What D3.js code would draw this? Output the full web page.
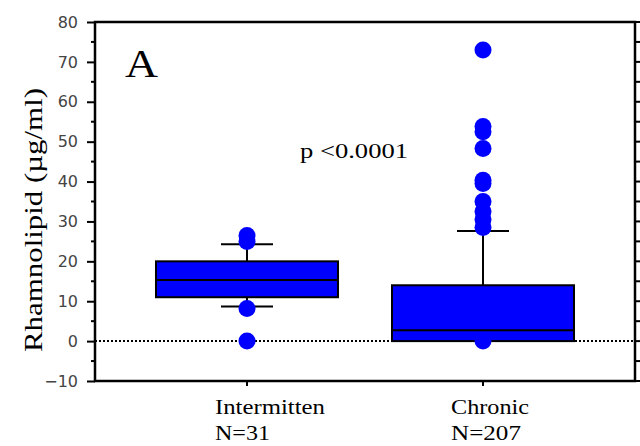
<!DOCTYPE html>
<html>
<head>
<meta charset="utf-8">
<script src="https://cdn.jsdelivr.net/npm/d3@7"></script>
<style>
  body { margin: 0; background: #fff; }
  svg { display: block; }
</style>
</head>
<body>
<svg id="chart" width="640" height="446"></svg>
<script>
// datos
const categories = ["Intermitten", "Chronic"];
const counts = ["N=31", "N=207"];
const q1 = [11, 0];
const median = [15.3, 2.7];
const q3 = [20, 14];
const whiskerLow = [8.7, 0];
const whiskerHigh = [24.3, 27.6];
const outliers = [
  [26.5, 25, 8.2, 0],
  [73, 53.8, 52.5, 48.3, 40.3, 39.5, 35, 32.5, 30.5, 28.5, 0]
];
const yTicks = [-10, 0, 10, 20, 30, 40, 50, 60, 70, 80];

const svg = d3.select("#chart");
const mLeft = 95, mRight = 635, mTop = 22, mBottom = 381;

const x = d3.scalePoint().domain(categories).range([mLeft, mRight]).padding(0.644);
const y = d3.scaleLinear().domain([-10, 80]).range([mBottom, mTop]);

const boxHalf = 91, capHalf = 26, r = 8.5;

// línea punteada en cero
svg.append("line")
  .attr("x1", mLeft).attr("x2", mRight)
  .attr("y1", y(0)).attr("y2", y(0))
  .attr("stroke", "#000").attr("stroke-width", 2)
  .attr("stroke-dasharray", "2,2");

// cajas
const groups = svg.selectAll("g.box")
  .data(categories)
  .enter().append("g").attr("class", "box");

groups.append("line")
  .attr("x1", d => x(d)).attr("x2", d => x(d))
  .attr("y1", (d, i) => y(whiskerLow[i])).attr("y2", (d, i) => y(whiskerHigh[i]))
  .attr("stroke", "#000").attr("stroke-width", 2);

groups.selectAll("line.cap")
  .data((d, i) => [whiskerLow[i], whiskerHigh[i]].map(v => ({ c: d, v })))
  .enter().append("line").attr("class", "cap")
  .attr("x1", d => x(d.c) - capHalf).attr("x2", d => x(d.c) + capHalf)
  .attr("y1", d => y(d.v)).attr("y2", d => y(d.v))
  .attr("stroke", "#000").attr("stroke-width", 2);

groups.append("rect")
  .attr("x", d => x(d) - boxHalf)
  .attr("width", boxHalf * 2)
  .attr("y", (d, i) => y(q3[i]))
  .attr("height", (d, i) => y(q1[i]) - y(q3[i]))
  .attr("fill", "#0000ff").attr("stroke", "#000").attr("stroke-width", 2);

groups.append("line")
  .attr("x1", d => x(d) - boxHalf).attr("x2", d => x(d) + boxHalf)
  .attr("y1", (d, i) => y(median[i])).attr("y2", (d, i) => y(median[i]))
  .attr("stroke", "#000").attr("stroke-width", 2);

groups.selectAll("circle")
  .data((d, i) => outliers[i].map(v => ({ c: d, v })))
  .enter().append("circle")
  .attr("cx", d => x(d.c)).attr("cy", d => y(d.v))
  .attr("r", r).attr("fill", "#0000ff");

// ejes
const yAxis = d3.axisLeft(y).tickValues(yTicks).tickSize(8).tickPadding(9);
const gy = svg.append("g").attr("transform", `translate(${mLeft},0)`).call(yAxis);
gy.select(".domain").remove();
gy.selectAll(".tick line").attr("stroke", "#000").attr("stroke-width", 2);
gy.selectAll(".tick text")
  .attr("font-family", "DejaVu Sans, Verdana, sans-serif")
  .attr("font-size", 16).attr("fill", "#444");

// ticks menores
const minor = d3.range(-5, 80, 10);
svg.selectAll("line.minorL").data(minor).enter().append("line")
  .attr("x1", mLeft - 4).attr("x2", mLeft)
  .attr("y1", d => y(d)).attr("y2", d => y(d))
  .attr("stroke", "#000").attr("stroke-width", 2);

svg.selectAll("line.tickR").data(d3.range(-10, 81, 5)).enter().append("line")
  .attr("x1", mRight).attr("x2", mRight + 5)
  .attr("y1", d => y(d)).attr("y2", d => y(d))
  .attr("stroke", "#000").attr("stroke-width", 2);

svg.selectAll("line.tickB").data(categories).enter().append("line")
  .attr("x1", d => x(d)).attr("x2", d => x(d))
  .attr("y1", mBottom).attr("y2", mBottom + 5)
  .attr("stroke", "#000").attr("stroke-width", 2);

// marco
svg.append("rect")
  .attr("x", mLeft).attr("y", mTop)
  .attr("width", mRight - mLeft).attr("height", mBottom - mTop)
  .attr("fill", "none").attr("stroke", "#000").attr("stroke-width", 2.5);

// textos (la fuente original sale algo ensanchada)
const serif = "Liberation Serif, Times New Roman, serif";
const catLen = [110, 78], nLen = [55, 70];

svg.selectAll("text.cat").data(categories).enter().append("text")
  .attr("x", d => x(d) - 32).attr("y", 414)
  .attr("font-family", serif).attr("font-size", 22)
  .attr("textLength", (d, i) => catLen[i]).attr("lengthAdjust", "spacingAndGlyphs")
  .text(d => d);

svg.selectAll("text.n").data(counts).enter().append("text")
  .attr("x", (d, i) => x(categories[i]) - 32).attr("y", 440)
  .attr("font-family", serif).attr("font-size", 21)
  .attr("textLength", (d, i) => nLen[i]).attr("lengthAdjust", "spacingAndGlyphs")
  .text(d => d);

svg.append("text")
  .attr("x", 300).attr("y", 158)
  .attr("font-family", serif).attr("font-size", 20)
  .attr("textLength", 108).attr("lengthAdjust", "spacingAndGlyphs")
  .text("p <0.0001");

svg.append("text")
  .attr("x", 125).attr("y", 77)
  .attr("font-family", serif).attr("font-size", 41)
  .attr("textLength", 33).attr("lengthAdjust", "spacingAndGlyphs")
  .text("A");

svg.append("text")
  .attr("transform", "translate(42,220) rotate(-90)")
  .attr("text-anchor", "middle")
  .attr("font-family", serif).attr("font-size", 26)
  .attr("textLength", 264).attr("lengthAdjust", "spacingAndGlyphs")
  .text("Rhamnolipid (µg/ml)");
</script>
</body>
</html>
